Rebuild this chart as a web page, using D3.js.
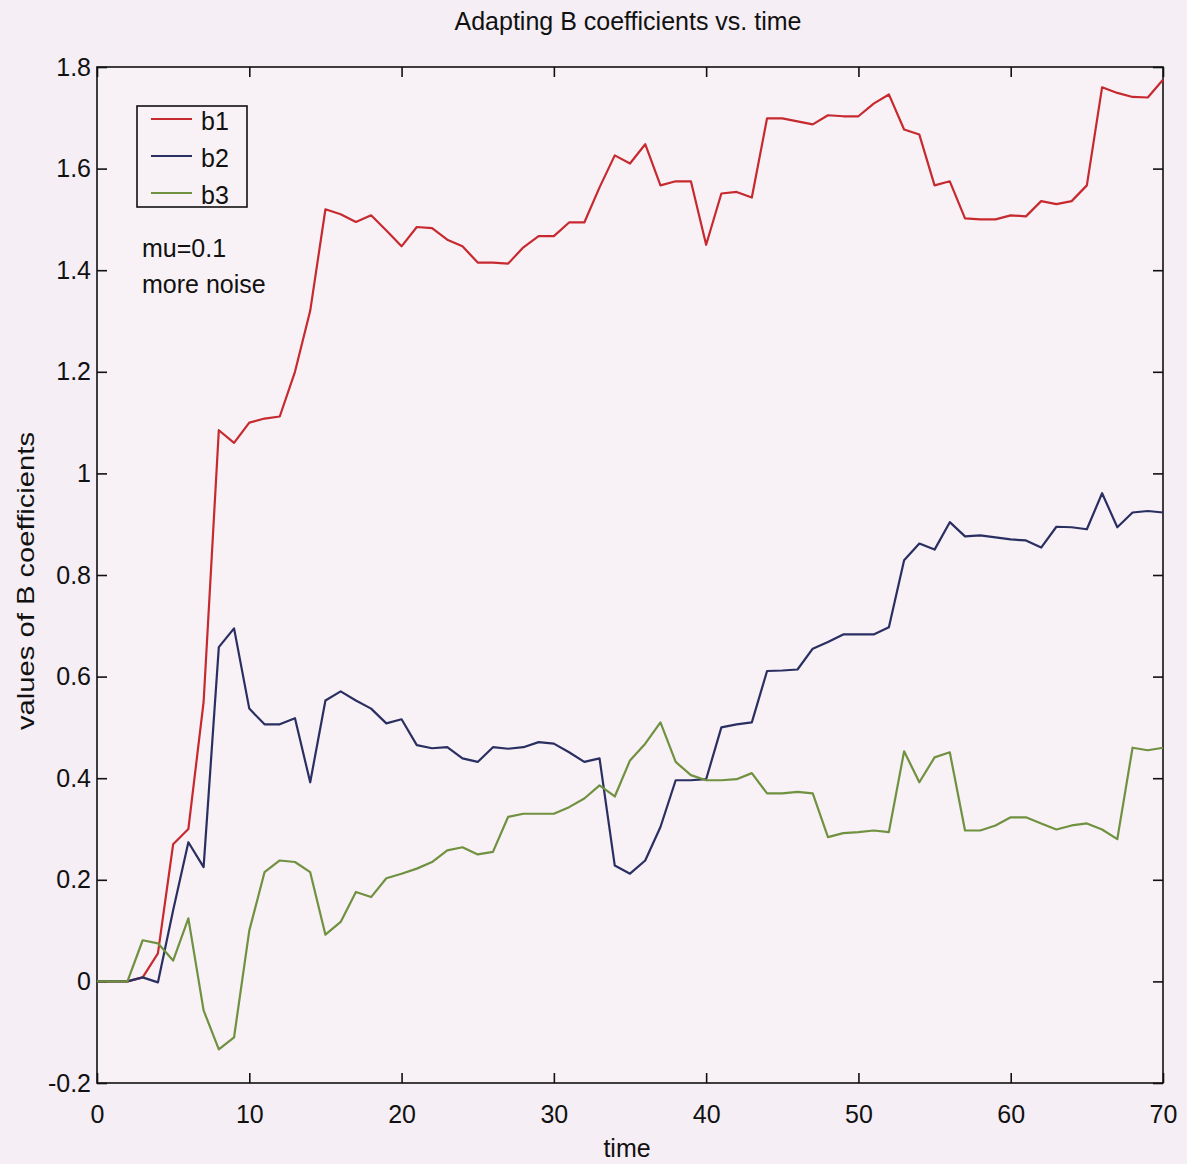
<!DOCTYPE html>
<html>
<head>
<meta charset="utf-8">
<script src="https://cdn.jsdelivr.net/npm/d3@7"></script>
<style>
  body { margin: 0; background: #f5eef4; }
  svg { display: block; }
  text { font-family: "Liberation Sans", Arial, sans-serif; fill: #111; }
</style>
</head>
<body>
<div id="chart"></div>
<script>
// time steps 0..70
const time = d3.range(0, 71);

const b1 = [0, 0, 0, 0.008, 0.055, 0.27, 0.30, 0.55, 1.085, 1.06,
    1.10, 1.108, 1.112, 1.20, 1.32, 1.52, 1.51, 1.495, 1.508, 1.478,
    1.447, 1.485, 1.483, 1.46, 1.447, 1.415, 1.415, 1.413, 1.445, 1.467,
    1.467, 1.494, 1.494, 1.563, 1.626, 1.61, 1.648, 1.567, 1.575, 1.575,
    1.45, 1.551, 1.554, 1.543, 1.699, 1.699, 1.693, 1.687, 1.705, 1.703,
    1.703, 1.728, 1.746, 1.677, 1.667, 1.567, 1.575, 1.502, 1.50, 1.50,
    1.508, 1.506, 1.536, 1.53, 1.536, 1.567, 1.76, 1.749, 1.741, 1.74,
    1.775];

const b2 = [0, 0, 0, 0.008, -0.002, 0.14, 0.274, 0.225, 0.658, 0.695,
    0.537, 0.506, 0.506, 0.518, 0.392, 0.553, 0.571, 0.553, 0.537, 0.508,
    0.516, 0.465, 0.459, 0.461, 0.439, 0.432, 0.461, 0.458, 0.461, 0.471,
    0.468, 0.451, 0.432, 0.439, 0.228, 0.212, 0.238, 0.304, 0.396, 0.396,
    0.398, 0.50, 0.506, 0.51, 0.611, 0.612, 0.614, 0.655, 0.668, 0.683,
    0.683, 0.683, 0.697, 0.829, 0.862, 0.85, 0.904, 0.876, 0.878, 0.874,
    0.87, 0.868, 0.854, 0.895, 0.894, 0.89, 0.961, 0.894, 0.923, 0.926,
    0.923];

const b3 = [0, 0, 0, 0.081, 0.075, 0.041, 0.124, -0.057, -0.134, -0.11,
    0.10, 0.215, 0.238, 0.235, 0.215, 0.092, 0.117, 0.176, 0.166, 0.203,
    0.212, 0.222, 0.235, 0.258, 0.264, 0.25, 0.255, 0.324, 0.33, 0.33,
    0.33, 0.343, 0.36, 0.386, 0.364, 0.435, 0.468, 0.51, 0.432, 0.406,
    0.396, 0.396, 0.398, 0.41, 0.37, 0.37, 0.373, 0.37, 0.284, 0.292,
    0.294, 0.297, 0.294, 0.453, 0.392, 0.441, 0.451, 0.297, 0.297, 0.307,
    0.323, 0.323, 0.311, 0.299, 0.307, 0.311, 0.299, 0.28, 0.46, 0.455,
    0.46];

const seriesNames = ['b1', 'b2', 'b3'];
const seriesColors = ['#c62a2f', '#2a2f62', '#6f9140'];
const xTicks = [0, 10, 20, 30, 40, 50, 60, 70];
const yTicks = [-0.2, 0, 0.2, 0.4, 0.6, 0.8, 1, 1.2, 1.4, 1.6, 1.8];

const WIDTH = 1187;
const HEIGHT = 1164;
const margin = { top: 67, right: 24, bottom: 81, left: 97 };
const innerW = WIDTH - margin.left - margin.right;
const innerH = HEIGHT - margin.top - margin.bottom;

const svg = d3.select('#chart')
    .append('svg')
    .attr('width', WIDTH)
    .attr('height', HEIGHT);

const g = svg.append('g')
    .attr('transform', `translate(${margin.left},${margin.top})`);

const x = d3.scaleLinear().domain([0, 70]).range([0, innerW]);
const y = d3.scaleLinear().domain([-0.2, 1.8]).range([innerH, 0]);

// frame
g.append('rect')
    .attr('width', innerW)
    .attr('height', innerH)
    .attr('fill', '#f8f1f6')
    .attr('stroke', '#111')
    .attr('stroke-width', 1.6);

// matlab style labels: plain hyphen for negatives
const fmt = d => String(+(+d).toFixed(1)).replace('−', '-');

// axes, ticks pointing inward
const xAxis = g.append('g')
    .attr('transform', `translate(0,${innerH})`)
    .call(d3.axisBottom(x).tickValues(xTicks).tickSizeInner(-10).tickSizeOuter(0).tickPadding(22).tickFormat(fmt));
const xTop = g.append('g')
    .call(d3.axisTop(x).tickValues(xTicks).tickSizeInner(-10).tickSizeOuter(0).tickFormat(''));
const yAxis = g.append('g')
    .call(d3.axisLeft(y).tickValues(yTicks).tickSizeInner(-10).tickSizeOuter(0).tickPadding(6).tickFormat(fmt));
const yRight = g.append('g')
    .attr('transform', `translate(${innerW},0)`)
    .call(d3.axisRight(y).tickValues(yTicks).tickSizeInner(-10).tickSizeOuter(0).tickFormat(''));

[xAxis, xTop, yAxis, yRight].forEach(a => {
    a.select('.domain').remove();
    a.selectAll('line').attr('stroke', '#111').attr('stroke-width', 1.6);
    a.selectAll('text')
        .attr('font-size', 25)
        .style('font-family', '"Liberation Sans", Arial, sans-serif')
        .attr('fill', '#111');
});

// lines
const line = d3.line()
    .x((d, i) => x(time[i]))
    .y(d => y(d));

[b1, b2, b3].forEach((s, i) => {
    g.append('path')
        .datum(s)
        .attr('fill', 'none')
        .attr('stroke', seriesColors[i])
        .attr('stroke-width', 2.2)
        .attr('stroke-linejoin', 'round')
        .attr('d', line);
});

// legend
const legend = svg.append('g').attr('transform', 'translate(137,106)');
legend.append('rect')
    .attr('width', 110)
    .attr('height', 101)
    .attr('fill', '#f8f1f6')
    .attr('stroke', '#111')
    .attr('stroke-width', 1.6);
seriesNames.forEach((name, i) => {
    const ly = 13 + i * 37;
    legend.append('line')
        .attr('x1', 14).attr('x2', 55)
        .attr('y1', ly).attr('y2', ly)
        .attr('stroke', seriesColors[i])
        .attr('stroke-width', 2.2);
    legend.append('text')
        .attr('x', 64).attr('y', ly + 11)
        .attr('font-size', 25)
        .text(name);
});

// annotation
svg.append('text').attr('x', 142).attr('y', 257).attr('font-size', 25).text('mu=0.1');
svg.append('text').attr('x', 142).attr('y', 293).attr('font-size', 25).text('more noise');

// title and axis labels
svg.append('text')
    .attr('x', 628)
    .attr('y', 30)
    .attr('text-anchor', 'middle')
    .attr('font-size', 25)
    .text('Adapting B coefficients vs. time');

svg.append('text')
    .attr('x', 627)
    .attr('y', 1157)
    .attr('text-anchor', 'middle')
    .attr('font-size', 25)
    .text('time');

svg.append('text')
    .attr('transform', 'translate(34,581) rotate(-90)')
    .attr('text-anchor', 'middle')
    .attr('font-size', 24)
    .attr('textLength', 298)
    .attr('lengthAdjust', 'spacingAndGlyphs')
    .text('values of B coefficients');
</script>
</body>
</html>
